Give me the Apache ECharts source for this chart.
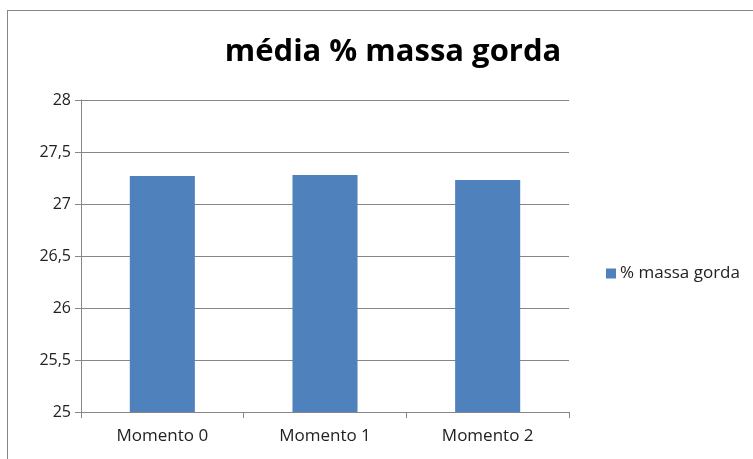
<!DOCTYPE html>
<html>
<head>
<meta charset="utf-8">
<script src="https://cdn.jsdelivr.net/npm/echarts@6/dist/echarts.min.js"></script>
<style>
  html, body { margin: 0; padding: 0; background: #fff; }
  #frame { position: absolute; left: 7px; top: 10px; width: 760px; height: 470px; border: 1px solid #868686; box-sizing: border-box; }
  #chart { position: absolute; left: 0; top: 0; width: 753px; height: 459px; }
</style>
</head>
<body>
<div id="frame"></div>
<div id="chart"></div>
<script>
// dados
const categories = ['Momento 0', 'Momento 1', 'Momento 2']
const seriesName = '% massa gorda'
const values = [27.27, 27.28, 27.23]
const yMin = 25
const yMax = 28
const yStep = 0.5

const chart = echarts.init(document.getElementById('chart'))

chart.setOption({
  animation: false,
  title: {
    text: 'média % massa gorda',
    left: 388,
    top: 32,
    textAlign: 'center',
    textStyle: { fontFamily: 'Open Sans', fontWeight: 'bold', fontSize: 31, color: '#000' }
  },
  legend: {
    orient: 'vertical',
    left: 601,
    top: 260,
    itemWidth: 10,
    itemHeight: 10,
    itemGap: 6,
    icon: 'rect',
    textStyle: { fontFamily: 'Open Sans', fontSize: 17, color: '#222', padding: [0, 0, 0, -1] },
    data: [seriesName]
  },
  grid: { left: 81, right: 184, top: 100, bottom: 47 },
  xAxis: {
    type: 'category',
    data: categories,
    axisLine: { lineStyle: { color: '#868686' } },
    axisTick: { show: true, length: 6, alignWithLabel: false, lineStyle: { color: '#868686' } },
    axisLabel: { fontFamily: 'Open Sans', fontSize: 17, color: '#222', margin: 16 }
  },
  yAxis: {
    type: 'value',
    min: yMin,
    max: yMax,
    interval: yStep,
    axisLine: { show: true, lineStyle: { color: '#868686' } },
    axisTick: { show: true, length: 6, lineStyle: { color: '#868686' } },
    splitLine: { lineStyle: { color: '#868686' } },
    axisLabel: {
      fontFamily: 'Open Sans', fontSize: 16, color: '#222', margin: 10,
      formatter: v => String(v).replace('.', ',')
    }
  },
  series: [{
    name: seriesName,
    type: 'bar',
    data: values,
    barWidth: '40%',
    itemStyle: { color: '#4F81BD' }
  }]
})
</script>
</body>
</html>
